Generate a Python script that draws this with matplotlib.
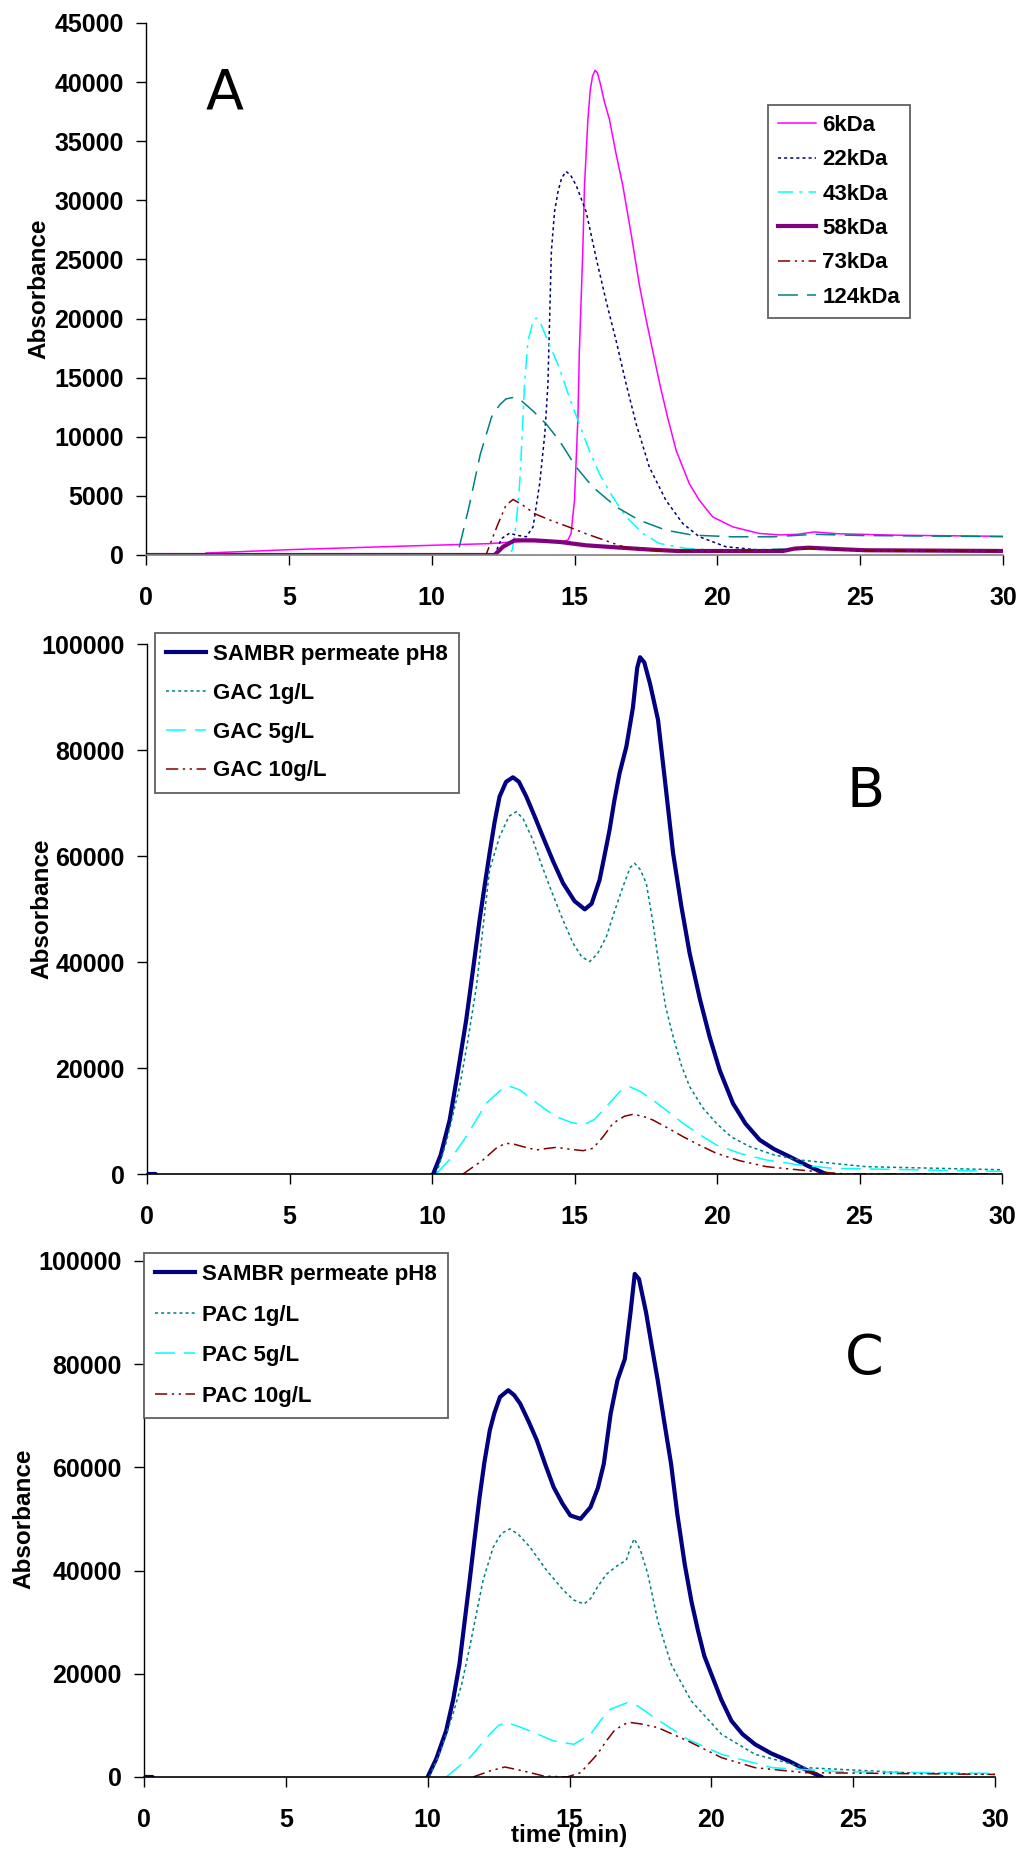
import matplotlib
matplotlib.use("Agg")
import matplotlib.pyplot as plt

plt.rcParams['font.family'] = ['Liberation Sans', 'DejaVu Sans']

# ---------------- Panel A data ----------------
t_6k = [0, 2, 2.1, 3.5, 5, 7, 9, 10, 12, 13.2, 14.5, 14.77, 14.88, 15.0, 15.12, 15.17, 15.29, 15.35, 15.47, 15.55,
        15.63, 15.72, 15.8, 15.9, 16.05, 16.22, 16.45, 16.69, 17.0, 17.27, 17.5, 17.74, 18.0, 18.26, 18.56, 19.02,
        19.37, 19.84, 20.54, 21.47, 22.2, 22.8, 23.4, 24.2, 26.4, 30]
a_6k = [0, 0, 170, 300, 450, 600, 750, 820, 960, 1160, 1100, 1260, 1820, 4630, 11640, 17240, 25660, 31260, 36870, 39300,
        40500, 41000, 40800, 39900, 38300, 36870, 34000, 31260, 26900, 22850, 20000, 17240, 14300, 11640, 8830, 6030,
        4630, 3220, 2380, 1820, 1700, 1750, 1950, 1800, 1670, 1580]

t_22k = [0, 12.2, 12.45, 12.73, 12.96, 13.31, 13.55, 13.78, 13.96, 14.07, 14.13, 14.19, 14.3, 14.42, 14.55, 14.71,
         14.87, 15.06, 15.41, 15.76, 16.11, 16.46, 16.81, 17.16, 17.62, 18.2, 18.79, 19.37, 20.3, 21.47, 23.3, 25, 30]
a_22k = [0, 0, 1400, 1850, 1680, 1540, 2380, 6030, 10230, 14440, 20050, 25660, 29020, 30700, 31900, 32440,
         32100, 31260, 29020, 25100, 21450, 18090, 14440, 11080, 7430, 4630, 2660, 1540, 700, 420, 550, 380, 330]

t_43k = [0, 12.7, 12.82, 12.96, 13.08, 13.17, 13.25, 13.37, 13.55, 13.66, 13.83, 14.07, 14.47, 14.82, 15.17, 15.52,
         15.87, 16.34, 16.81, 17.39, 17.97, 18.9, 20, 23.3, 25, 30]
a_43k = [0, 0, 420, 2660, 6030, 10230, 14440, 18090, 19770, 20050, 19490, 18090, 15840, 13320, 11080, 8830,
         6870, 4910, 3220, 1820, 980, 560, 400, 550, 380, 330]

t_58k = [0, 12.2, 12.5, 12.9, 13.6, 14.5, 15.4, 16.6, 17.7, 18.6, 22.3, 22.7, 23.2, 24.1, 25.2, 30]
a_58k = [0, 0, 700, 1240, 1240, 1100, 820, 620, 450, 340, 340, 540, 620, 510, 400, 340]

t_73k = [0, 11.9, 12.3, 12.6, 12.85, 13.2, 13.6, 14.2, 14.8, 15.4, 15.9, 16.4, 16.8, 17.7, 20, 23.3, 25, 30]
a_73k = [0, 0, 2500, 4200, 4700, 4200, 3500, 2900, 2370, 1800, 1380, 950, 620, 400, 300, 550, 380, 330]

t_124k = [0, 10.9, 11.3, 11.7, 12.1, 12.38, 12.6, 12.84, 13.08, 13.54, 14.01, 14.47, 15.06, 15.64, 16.46, 17.27,
          18.2, 19.14, 20.54, 21.94, 23.4, 25, 30]
a_124k = [0, 0, 4000, 8500, 11700, 12700, 13200, 13320, 13180, 12200, 11080, 9670, 7430, 5750, 4070, 2940,
          2100, 1680, 1540, 1540, 1750, 1650, 1550]

# ---------------- Panel B data ----------------
t_samb_b = [0, 0.3, 0.6, 9.6, 10.04, 10.3, 10.62, 10.9, 11.2, 11.45, 11.67, 11.85, 12.02, 12.2, 12.37, 12.6, 12.84,
            13.05, 13.31, 13.6, 13.89, 14.25, 14.6, 15.0, 15.36, 15.6, 15.88, 16.05, 16.23, 16.4, 16.58, 16.82, 17.05,
            17.2, 17.3, 17.45, 17.65, 17.93, 18.2, 18.46, 18.75, 19.04, 19.4, 19.74, 20.1, 20.56, 21.0, 21.5, 22.0,
            22.55, 23.2, 23.83, 24.3]
a_samb_b = [0, 0, -3000, -3000, 0, 3500, 10190, 19000, 29060, 39000, 47930, 54500, 60510, 66500, 71200, 74000, 74850,
            74000, 71200, 67500, 63650, 59000, 54850, 51500, 49940, 51000, 55480, 60000, 64910, 70500, 75600, 80640,
            88000, 95500, 97500, 96500, 92500, 85700, 73000, 60510, 50500, 41640, 33000, 25900, 19500, 13330, 9500,
            6420, 4700, 3270, 1500, 0, -3000]

t_gac1 = [10.15, 10.5, 10.97, 11.25, 11.56, 11.8, 12.02, 12.37, 12.7, 12.96, 13.2, 13.54, 13.8, 14.13, 14.55, 14.95,
          15.25, 15.53, 15.8, 16.12, 16.4, 16.7, 16.95, 17.11, 17.3, 17.52, 17.75, 17.99, 18.2, 18.46, 18.75, 19.04,
          19.5, 19.98, 20.5, 21.15, 22.0, 22.9, 25.24, 30]
a_gac1 = [0, 6000, 16480, 25000, 35350, 47000, 57370, 63650, 67500, 68370, 67000, 63020, 59000, 54220, 48500, 43530,
          41000, 40070, 41500, 44790, 49500, 54220, 57800, 58620, 57500, 54850, 47500, 38490, 31500, 25910, 20500, 16480,
          12500, 9560, 7000, 5160, 3600, 2640, 1380, 800]

t_gac5 = [10.15, 10.7, 11.2, 11.9, 12.4, 12.78, 13.1, 13.54, 13.95, 14.36, 14.85, 15.3, 15.7, 16.12, 16.6, 16.93, 17.3,
          17.75, 18.3, 18.81, 19.4, 19.98, 20.8, 21.74, 22.9, 24.07, 30]
a_gac5 = [0, 3200, 7040, 13330, 15800, 16480, 15800, 13960, 12300, 10820, 9800, 9250, 10300, 12710, 15600, 16480,
          15600, 13960, 11700, 9560, 7400, 5470, 3900, 2640, 1700, 1070, 500]

t_gac10 = [11.09, 11.79, 12.3, 12.61, 12.9, 13.19, 13.66, 14.0, 14.36, 14.8, 15.3, 15.65, 16.0, 16.35, 16.75, 17.05,
           17.4, 17.75, 18.3, 18.81, 19.4, 19.98, 20.8, 21.74, 23.5, 24.5, 30]
a_gac10 = [0, 2640, 5100, 5790, 5600, 5160, 4530, 4800, 5030, 4700, 4400, 4840, 7000, 9560, 10900, 11260,
           10900, 10190, 8600, 7040, 5400, 3900, 2500, 1380, 440, 0, 0]

# ---------------- Panel C data ----------------
t_samb_c = [0, 0.3, 0.6, 9.6, 10.0, 10.3, 10.65, 10.9, 11.12, 11.3, 11.48, 11.65, 11.83, 12.0, 12.19, 12.35, 12.55,
            12.84, 13.05, 13.26, 13.55, 13.85, 14.15, 14.44, 14.75, 15.03, 15.39, 15.74, 16.0, 16.21, 16.45, 16.69,
            16.95, 17.15, 17.3, 17.45, 17.7, 17.9, 18.11, 18.35, 18.58, 18.8, 19.06, 19.3, 19.53, 19.75, 20.0, 20.35,
            20.71, 21.1, 21.54, 22.1, 22.73, 23.3, 23.9, 24.3]
a_samb_c = [0, 0, -3000, -3000, 0, 3500, 8930, 15000, 21880, 30000, 38060, 46000, 54230, 61000, 67180, 70500, 73650,
            74950, 74000, 72360, 69000, 65240, 60500, 56180, 53000, 50680, 50030, 52290, 56000, 60710, 70410, 76890,
            81000, 90000, 97500, 96500, 90000, 83500, 76890, 68500, 60710, 51000, 41290, 34000, 28350, 23500, 19930,
            15000, 10870, 8300, 6340, 4600, 3110, 1500, 0, -3000]

t_pac1 = [10.06, 10.45, 10.89, 11.2, 11.48, 11.95, 12.31, 12.6, 12.9, 13.2, 13.61, 14.2, 14.8, 15.15, 15.51, 15.75,
          15.98, 16.3, 16.69, 17.0, 17.15, 17.28, 17.5, 17.76, 18.11, 18.58, 19.29, 20.36, 21.54, 23.32, 26.87, 30]
a_pac1 = [0, 5000, 12170, 18000, 25110, 38060, 44530, 47200, 48090, 47000, 44530, 40000, 36110, 34300, 33530, 34600,
          36760, 39300, 40970, 42000, 44500, 46150, 44000, 39350, 30290, 21880, 14760, 8280, 4400, 1810, 840, 500]

t_pac5 = [10.65, 11.48, 12.19, 12.5, 12.78, 13.1, 13.61, 14.44, 15.15, 15.74, 16.1, 16.45, 17.04, 17.4, 17.99, 19.17,
          20.36, 22.14, 24.5, 30]
a_pac5 = [0, 3750, 8280, 10000, 10550, 10000, 8930, 6990, 6340, 8280, 11000, 13140, 14430, 13800, 11520, 7310,
          4400, 1810, 1040, 700]

t_pac10 = [11.6, 12.19, 12.72, 13.38, 14.09, 14.91, 15.39, 15.98, 16.3, 16.57, 16.9, 17.16, 17.5, 18.11, 19.17, 20.36,
           21.54, 23.32, 30]
a_pac10 = [0, 1160, 1940, 1160, 190, 0, 840, 4400, 7000, 8930, 10200, 10550, 10300, 9580, 6990, 3750,
           1810, 840, 500]

x_ticks = [0, 5, 10, 15, 20, 25, 30]
yticks_a = [0, 5000, 10000, 15000, 20000, 25000, 30000, 35000, 40000, 45000]
yticks_bc = [0, 20000, 40000, 60000, 80000, 100000]

legend_a = ['6kDa', '22kDa', '43kDa', '58kDa', '73kDa', '124kDa']
legend_b = ['SAMBR permeate pH8', 'GAC 1g/L', 'GAC 5g/L', 'GAC 10g/L']
legend_c = ['SAMBR permeate pH8', 'PAC 1g/L', 'PAC 5g/L', 'PAC 10g/L']

# ---------------- figure ----------------
W, H = 1025, 1854
fig = plt.figure(figsize=(W / 100, H / 100), dpi=100)


def frac_axes(left, top, right, bottom):
    return fig.add_axes([left / W, 1 - bottom / H, (right - left) / W, (bottom - top) / H])


axA = frac_axes(146, 23, 1003, 555)
axB = frac_axes(147, 644, 1002, 1174)
axC = frac_axes(144, 1261, 995, 1777)

NAVY = '#000080'
TEAL = '#008080'
CYAN = '#00FFFF'
MAG = '#FF00FF'
PURP = '#800080'
BROWN = '#800000'

TICK_SIZE = 18


def style_axes(ax, ymax, yticks, bottom_color='black'):
    ax.set_xlim(0, 30)
    ax.set_ylim(0, ymax)
    ax.set_xticks(x_ticks)
    ax.set_yticks(yticks)
    ax.set_xticklabels([str(v) for v in x_ticks])
    ax.set_yticklabels([str(v) for v in yticks])
    ax.spines['top'].set_visible(False)
    ax.spines['right'].set_visible(False)
    ax.spines['left'].set_color('black')
    ax.spines['bottom'].set_color(bottom_color)
    ax.spines['left'].set_linewidth(1.0)
    ax.spines['bottom'].set_linewidth(1.2)
    ax.tick_params(axis='x', direction='out', length=7, width=1, pad=15, colors='black')
    ax.tick_params(axis='y', direction='out', length=7, width=1, pad=9)
    for lab in ax.get_xticklabels() + ax.get_yticklabels():
        lab.set_fontweight('bold')
        lab.set_fontsize(TICK_SIZE)


# Panel A
axA.plot(t_6k, a_6k, color=MAG, lw=1.1, label=legend_a[0])
axA.plot(t_22k, a_22k, color=NAVY, lw=1.1, dashes=(2, 2), label=legend_a[1])
axA.plot(t_43k, a_43k, color=CYAN, lw=1.1, dashes=(10, 4, 2, 4), label=legend_a[2])
axA.plot(t_58k, a_58k, color=PURP, lw=3.0, label=legend_a[3])
axA.plot(t_73k, a_73k, color=BROWN, lw=1.1, dashes=(8, 3, 1.5, 3, 1.5, 3), label=legend_a[4])
axA.plot(t_124k, a_124k, color=TEAL, lw=1.1, dashes=(13, 6), label=legend_a[5])
style_axes(axA, 45000, yticks_a, bottom_color='#808080')

# Panel B
axB.plot(t_samb_b, a_samb_b, color=NAVY, lw=3.0, label=legend_b[0])
axB.plot(t_gac1, a_gac1, color=TEAL, lw=1.1, dashes=(2, 2), label=legend_b[1])
axB.plot(t_gac5, a_gac5, color=CYAN, lw=1.1, dashes=(13, 6), label=legend_b[2])
axB.plot(t_gac10, a_gac10, color=BROWN, lw=1.1, dashes=(8, 3, 1.5, 3, 1.5, 3), label=legend_b[3])
style_axes(axB, 100000, yticks_bc)

# Panel C
axC.plot(t_samb_c, a_samb_c, color=NAVY, lw=3.0, label=legend_c[0])
axC.plot(t_pac1, a_pac1, color=TEAL, lw=1.1, dashes=(2, 2), label=legend_c[1])
axC.plot(t_pac5, a_pac5, color=CYAN, lw=1.1, dashes=(13, 6), label=legend_c[2])
axC.plot(t_pac10, a_pac10, color=BROWN, lw=1.1, dashes=(8, 3, 1.5, 3, 1.5, 3), label=legend_c[3])
style_axes(axC, 100000, yticks_bc)

# y labels
ylab_font = dict(family=['Liberation Sans', 'DejaVu Sans'], size=17.5, weight='bold')
fig.text(39 / W, 1 - 289 / H, 'Absorbance', rotation=90, ha='center', va='center', **ylab_font)
fig.text(42 / W, 1 - 909 / H, 'Absorbance', rotation=90, ha='center', va='center', **ylab_font)
fig.text(24 / W, 1 - 1519 / H, 'Absorbance', rotation=90, ha='center', va='center', **ylab_font)

# x label (panel C)
axC.annotate('time (min)', xy=(15, 0), xycoords=('data', 'axes fraction'), xytext=(0, -42),
             textcoords='offset points', ha='center', va='center',
             fontfamily=['Liberation Sans', 'DejaVu Sans'], fontweight='bold', fontsize=17.5)

# panel letters
letter_font = dict(family=['DejaVu Sans'], size=40)
axA.text(2.76, 39000, 'A', ha='center', va='center', **letter_font)
axB.text(25.2, 72000, 'B', ha='center', va='center', **letter_font)
axC.text(25.4, 81000, 'C', ha='center', va='center', **letter_font)

# legends
leg_prop = dict(family=['Liberation Sans', 'DejaVu Sans'], weight='bold', size=16)


def make_legend(ax, x, y, spacing, hlen, bpad):
    leg = ax.legend(loc='upper left', bbox_to_anchor=(x / W, 1 - y / H), bbox_transform=fig.transFigure,
                    borderaxespad=0, prop=leg_prop, frameon=True, fancybox=False, shadow=False,
                    labelspacing=spacing, handlelength=hlen, handletextpad=0.3, borderpad=bpad,
                    framealpha=1)
    fr = leg.get_frame()
    fr.set_edgecolor('#606060')
    fr.set_linewidth(1.3)
    return leg


make_legend(axA, 768, 105, 0.6, 1.7, 0.45)
make_legend(axB, 155, 633, 0.8, 1.8, 0.5)
make_legend(axC, 144, 1253, 0.88, 1.8, 0.5)

fig.savefig('out.png', dpi=100, facecolor='white')
